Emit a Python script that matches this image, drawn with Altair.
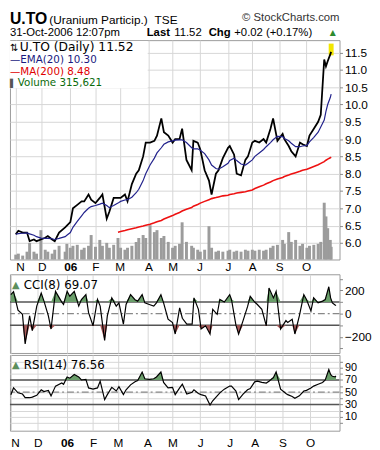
import altair as alt
import pandas as pd

# ---------------- data ----------------
dates = [
    "2005-11-01", "2005-11-04", "2005-11-09", "2005-11-14", "2005-11-17", "2005-11-22", "2005-11-25", "2005-11-30",
    "2005-12-05", "2005-12-08", "2005-12-13", "2005-12-16", "2005-12-21", "2005-12-28", "2005-12-30",
    "2006-01-03", "2006-01-06", "2006-01-11", "2006-01-16", "2006-01-19", "2006-01-24", "2006-01-27",
    "2006-02-01", "2006-02-06", "2006-02-09", "2006-02-14", "2006-02-17", "2006-02-22", "2006-02-27",
    "2006-03-02", "2006-03-07", "2006-03-10", "2006-03-15", "2006-03-20", "2006-03-23", "2006-03-28", "2006-03-31",
    "2006-04-05", "2006-04-10", "2006-04-13", "2006-04-18", "2006-04-21", "2006-04-26",
    "2006-05-01", "2006-05-04", "2006-05-09", "2006-05-12", "2006-05-17", "2006-05-23", "2006-05-25", "2006-05-30",
    "2006-06-02", "2006-06-07", "2006-06-12", "2006-06-15", "2006-06-20", "2006-06-23", "2006-06-28",
    "2006-07-04", "2006-07-06", "2006-07-11", "2006-07-14", "2006-07-19", "2006-07-24", "2006-07-27",
    "2006-08-01", "2006-08-04", "2006-08-09", "2006-08-14", "2006-08-17", "2006-08-22", "2006-08-25", "2006-08-30",
    "2006-09-05", "2006-09-07", "2006-09-12", "2006-09-15", "2006-09-20", "2006-09-25", "2006-09-28",
    "2006-10-03", "2006-10-06", "2006-10-11", "2006-10-16", "2006-10-19", "2006-10-23", "2006-10-25", "2006-10-27",
    "2006-10-30", "2006-10-31",
]
close = [
    6.25, 6.35, 6.30, 6.30, 6.05, 6.10, 6.05, 6.10,
    6.15, 6.20, 6.10, 6.05, 6.30, 6.45, 6.50,
    6.60, 7.00, 7.10, 7.20, 7.20, 7.40, 7.25,
    7.15, 7.30, 7.40, 6.70, 6.90, 7.30, 7.30,
    7.30, 7.40, 7.20, 7.70, 8.00, 8.10, 8.50, 8.90,
    8.90, 8.95, 9.10, 9.60, 9.20, 9.10,
    8.90, 9.00, 9.00, 9.30, 8.40, 8.10, 8.95, 8.90,
    8.70, 8.10, 7.80, 7.40, 8.00, 8.10, 8.45,
    8.75, 8.80, 8.55, 8.00, 7.95, 8.40, 8.50,
    8.90, 8.95, 8.90, 9.00, 8.90, 9.30, 9.60, 8.95,
    9.15, 9.00, 8.80, 8.65, 8.50, 8.90, 8.85,
    8.80, 9.10, 9.30, 9.50, 9.70, 11.30, 11.10, 11.25, 11.45, 11.52,
]
ema20 = [
    6.25, 6.27, 6.28, 6.29, 6.26, 6.22, 6.18, 6.14,
    6.13, 6.13, 6.12, 6.10, 6.13, 6.18, 6.22,
    6.30, 6.45, 6.62, 6.78, 6.88, 7.00, 7.05,
    7.08, 7.12, 7.15, 7.08, 7.02, 7.08, 7.15,
    7.20, 7.24, 7.25, 7.32, 7.45, 7.55, 7.80, 8.00,
    8.25, 8.45, 8.60, 8.75, 8.85, 8.92,
    8.95, 8.97, 8.98, 8.98, 8.90, 8.75, 8.72, 8.72,
    8.68, 8.58, 8.40, 8.25, 8.15, 8.13, 8.20,
    8.30, 8.38, 8.45, 8.38, 8.28, 8.25, 8.30,
    8.40, 8.50, 8.60, 8.70, 8.78, 8.90, 8.98, 9.08,
    9.07, 9.02, 8.95, 8.88, 8.78, 8.78, 8.80,
    8.82, 8.92, 9.05, 9.20, 9.35, 9.55, 9.80, 10.00, 10.20, 10.30,
]
ma200 = [
    None, None, None, None, None, None, None, None,
    None, None, None, None, None, None, None,
    None, None, None, None, None, None, None,
    None, None, None, None, None, None, 6.31,
    6.33, 6.36, 6.38, 6.41, 6.44, 6.46, 6.49, 6.51,
    6.54, 6.58, 6.61, 6.65, 6.69, 6.74,
    6.79, 6.83, 6.88, 6.92, 6.97, 7.02, 7.06, 7.11,
    7.15, 7.20, 7.25, 7.28, 7.31, 7.33, 7.36,
    7.38, 7.40, 7.42, 7.44, 7.46, 7.48, 7.50,
    7.53, 7.57, 7.62, 7.67, 7.71, 7.76, 7.80, 7.85,
    7.89, 7.92, 7.96, 7.99, 8.03, 8.07, 8.10,
    8.13, 8.16, 8.21, 8.26, 8.30, 8.35, 8.39, 8.42, 8.46, 8.48,
]
volume = [
    121500, 145800, 97200, 194400, 413100, 194400, 145800, 729000,
    243000, 194400, 145800, 243000, 340200, 194400, 388800,
    291600, 340200, 364500, 243000, 291600, 340200, 607500,
    315900, 486000, 340200, 413100, 291600, 364500, 534600,
    291600, 243000, 291600, 340200, 437400, 534600, 607500, 534600,
    850500, 680400, 729000, 534600, 583200, 437400,
    291600, 340200, 388800, 923400, 437400, 340200, 291600, 243000,
    194400, 243000, 826200, 291600, 194400, 218700, 194400,
    218700, 243000, 194400, 218700, 194400, 243000, 218700,
    243000, 218700, 243000, 218700, 243000, 291600, 340200, 364500,
    486000, 388800, 680400, 437400, 486000, 340200, 388800,
    291600, 340200, 364500, 388800, 437400, 1409400, 1069200, 777600, 486000, 315621,
]
cci8 = [
    164, 190, 30, -6, -261, -20, -147, 65,
    178, 110, -20, -133, 192, 100, 79,
    192, 150, 192, 65, 122, 164, 8,
    -105, 122, 65, -232, -20, 136, 65,
    93, -91, 79, 164, 120, 108, 164, 93,
    79, 65, 93, 164, 93, -48,
    -77, -176, 50, -40, -91, -91, 136, 37,
    -133, -105, -176, 37, -6, 122, 100,
    164, 122, -100, -176, -60, 60, 150,
    100, 79, 37, -105, 221, 136, 192, -133,
    -60, -77, -48, -176, -20, 164, 122,
    23, 136, 93, 108, 122, 232, 136, 93, 75, 69.07,
]
rsi14 = [
    46, 57, 49, 47, 41, 41, 42, 45,
    54, 51, 53, 44, 60, 65, 63,
    75, 73, 79, 75, 70, 71, 57,
    55, 57, 68, 38, 46, 58, 52,
    59, 46, 54, 62, 67, 69, 83, 72,
    71, 72, 75, 83, 66, 57,
    58, 46, 57, 63, 47, 50, 54, 48,
    46, 44, 29, 36, 44, 49, 55,
    60, 60, 52, 38, 47, 54, 56,
    67, 68, 66, 65, 68, 74, 83, 55,
    48, 46, 43, 40, 44, 52, 53,
    57, 60, 63, 66, 70, 87, 79, 76, 75, 76.56,
]
last_day = ["2006-10-31"]
last_range = [(11.42, 11.76)]
month_starts = [(2005, 11, 1), (2005, 12, 1), (2006, 1, 3), (2006, 2, 1), (2006, 3, 1), (2006, 4, 3),
                (2006, 5, 1), (2006, 6, 1), (2006, 7, 4), (2006, 8, 1), (2006, 9, 1), (2006, 10, 2)]
price_ticks = [6.0, 6.5, 7.0, 7.5, 8.0, 8.5, 9.0, 9.5, 10.0, 10.5, 11.0, 11.5]
cci_ticks = [-300, -200, -100, 0, 100, 200, 300]
rsi_ticks = [0, 10, 20, 30, 40, 50, 60, 70, 80, 90, 100]

df = pd.DataFrame({"date": dates, "close": close, "ema": ema20, "ma": ma200,
                   "vol": volume, "cci": cci8, "rsi": rsi14})
last_df = pd.DataFrame({"date": last_day, "lo": [r[0] for r in last_range], "hi": [r[1] for r in last_range]})
one = pd.DataFrame({"k": [0]})

W = 335
GRID = "#d6d6d6"
AXF = "Liberation Sans"
LGF = "DejaVu Sans"


def dt(y, m, d):
    return alt.DateTime(year=y, month=m, date=d, hours=0, utc=True)


x_scale = alt.Scale(domain=[dt(2005, 10, 31), dt(2006, 11, 4)])
month_vals = [dt(*m) for m in month_starts]
month_label = "utcmonth(datum.value) == 0 ? '06' : substring(utcFormat(datum.value, '%b'), 0, 1)"
bold_jan = {"condition": {"test": "utcmonth(datum.value) == 0", "value": "bold"}, "value": "normal"}
left_nov = {"condition": {"test": "utcmonth(datum.value) == 10", "value": "left"}, "value": "center"}


def x_enc(labels, pad=2):
    if labels:
        ax = alt.Axis(values=month_vals, title=None, grid=True, gridColor=GRID, ticks=False, domain=False,
                      labelExpr=month_label, labelFlush=False, labelOverlap=False, labelPadding=pad,
                      labelFont=AXF, labelFontSize=12, labelColor="black", labelFontWeight=bold_jan,
                      labelAlign=left_nov)
    else:
        ax = alt.Axis(values=month_vals, title=None, grid=True, gridColor=GRID, ticks=False,
                      domain=False, labels=False)
    return alt.X("date:T", scale=x_scale, axis=ax)


def txt(s, x, y, size=11, weight="normal", color="black", font=LGF, align="left"):
    return alt.Chart(one).mark_text(text=s, align=align, baseline="alphabetic", fontSize=size,
                                    fontWeight=weight, color=color, font=font).encode(
        x=alt.value(x), y=alt.value(y))


# ---------------- header ----------------
header = alt.layer(
    txt("U.TO", 0, 12, size=16, weight="bold", font=AXF),
    txt("(Uranium Particip.)", 40, 12, size=12, font=AXF),
    txt("TSE", 147, 12, size=12, font=AXF),
    txt("\u00a9 StockCharts.com", W, 9, size=11.5, font=AXF, color="#333333", align="right"),
    txt("31-Oct-2006 12:07pm", 0, 24, size=11.5, font=AXF),
    txt("Last", 139, 24, size=11.5, weight="bold", font=AXF),
    txt("11.52", 167, 24, size=11.5, font=AXF),
    txt("Chg", 202, 24, size=11.5, weight="bold", font=AXF),
    txt("+0.02 (+0.17%)", 228, 24, size=11.5, font=AXF),
    txt("\u25b2", 325, 23, size=8, color="#2e8b2e", font=LGF),
).properties(width=W, height=26, view=alt.ViewBackground(strokeOpacity=0))

# ---------------- price panel ----------------
p_scale = alt.Scale(domain=[5.52, 11.86], nice=False, zero=False)
p_axis = alt.Axis(orient="right", values=price_ticks, format=".1f", title=None, grid=True, gridColor=GRID,
                  tickSize=3, tickColor="#888888", domain=False, labelPadding=2,
                  labelFont=AXF, labelFontSize=12, labelColor="black")
base = alt.Chart(df)
vol = base.mark_bar(width=3, color="#9c9c9c").encode(
    x=x_enc(True), y=alt.Y("vol:Q", scale=alt.Scale(domain=[0, 5443200], nice=False), axis=None))
hilite = alt.Chart(last_df).mark_rule(color="#f2e600", strokeWidth=5).encode(
    x=x_enc(True), y=alt.Y("lo:Q", scale=p_scale, axis=None), y2="hi:Q")
price = base.mark_line(color="black", strokeWidth=1.8).encode(
    x=x_enc(True), y=alt.Y("close:Q", scale=p_scale, axis=p_axis))
ema = base.mark_line(color="#22228c", strokeWidth=1.2).encode(
    x=x_enc(True), y=alt.Y("ema:Q", scale=p_scale, axis=None))
ma = base.mark_line(color="#ee1111", strokeWidth=1.6).encode(
    x=x_enc(True), y=alt.Y("ma:Q", scale=p_scale, axis=None))
legend_box = alt.Chart(one).mark_rect(color="white").encode(
    x=alt.value(0), x2=alt.value(140), y=alt.value(1), y2=alt.value(49))
price_panel = alt.layer(
    vol, hilite, price, ema, ma, legend_box,
    txt("\u21c5", 0, 11, size=10, color="black"),
    txt("U.TO (Daily) 11.52", 10, 11, size=12.5),
    txt("\u2014EMA(20) 10.30", 0, 23, size=10.5, color="#1a1a80"),
    txt("\u2014MA(200) 8.48", 0, 35, size=10.5, color="#e00000"),
    txt("\u258c", 0, 47, size=8, color="#555555"),
    txt("Volume 315,621", 8, 47, size=10.5, color="#0b6b0b"),
).resolve_scale(y="independent").properties(width=W, height=223)

# ---------------- CCI panel ----------------
c_scale = alt.Scale(domain=[-340, 340], nice=False, zero=False)
c_axis = alt.Axis(orient="right", values=cci_ticks, title=None, grid=False, tickSize=3, tickColor="#888888",
                  domain=False, labelPadding=2, labelFont=AXF, labelFontSize=12, labelColor="black",
                  labelExpr="abs(datum.value) == 100 || abs(datum.value) == 300 ? '' : datum.label")
cb = alt.Chart(df)
cci_up = cb.transform_calculate(v="max(datum.cci, 100)").mark_area(color="#6a9e6a").encode(
    x=x_enc(False), y=alt.Y("v:Q", scale=c_scale, axis=c_axis), y2=alt.datum(100))
cci_dn = cb.transform_calculate(v="min(datum.cci, -100)").mark_area(color="#a85a5a").encode(
    x=x_enc(False), y=alt.Y("v:Q", scale=c_scale, axis=c_axis), y2=alt.datum(-100))
cci_lines = alt.Chart(pd.DataFrame({"v": [100, -100]})).mark_rule(color="#555555", strokeWidth=1.5).encode(
    y=alt.Y("v:Q", scale=c_scale, axis=c_axis))
cci_zero = alt.Chart(pd.DataFrame({"v": [0]})).mark_rule(color="#888888", strokeWidth=1.2,
                                                         strokeDash=[7, 3, 2, 3]).encode(
    y=alt.Y("v:Q", scale=c_scale, axis=c_axis))
cci_line = cb.mark_line(color="black", strokeWidth=1.2).encode(
    x=x_enc(False), y=alt.Y("cci:Q", scale=c_scale, axis=c_axis))
cci_panel = alt.layer(
    cci_lines, cci_zero, cci_up, cci_dn, cci_line,
    txt("\u25b2", 2, 14, size=10, color="#5c8f5c"),
    txt("CCI(8) 69.07", 14, 15, size=12),
).properties(width=W, height=80)

# ---------------- RSI panel ----------------
r_scale = alt.Scale(domain=[-13, 111], nice=False, zero=False)
r_axis = alt.Axis(orient="right", values=rsi_ticks, title=None, grid=True, gridColor=GRID, tickSize=3,
                  tickColor="#888888", domain=False, labelPadding=2, labelFont=AXF, labelFontSize=11,
                  labelColor="black",
                  labelExpr="datum.value % 20 == 10 ? datum.label : ''")
rb = alt.Chart(df)
rsi_up = rb.transform_calculate(v="max(datum.rsi, 70)").mark_area(color="#6a9e6a").encode(
    x=x_enc(True, 7), y=alt.Y("v:Q", scale=r_scale, axis=r_axis), y2=alt.datum(70))
rsi_dn = rb.transform_calculate(v="min(datum.rsi, 30)").mark_area(color="#a85a5a").encode(
    x=x_enc(True, 7), y=alt.Y("v:Q", scale=r_scale, axis=r_axis), y2=alt.datum(30))
rsi_lines = alt.Chart(pd.DataFrame({"v": [70, 30]})).mark_rule(color="#555555", strokeWidth=1.5).encode(
    y=alt.Y("v:Q", scale=r_scale, axis=r_axis))
rsi_mid = alt.Chart(pd.DataFrame({"v": [50]})).mark_rule(color="#888888", strokeWidth=1.2,
                                                         strokeDash=[7, 3, 2, 3]).encode(
    y=alt.Y("v:Q", scale=r_scale, axis=r_axis))
rsi_line = rb.mark_line(color="black", strokeWidth=1.2).encode(
    x=x_enc(True, 7), y=alt.Y("rsi:Q", scale=r_scale, axis=r_axis))
rsi_panel = alt.layer(
    rsi_lines, rsi_mid, rsi_up, rsi_dn, rsi_line,
    txt("\u25b2", 2, 13, size=10, color="#5c8f5c"),
    txt("RSI(14) 76.56", 14, 14, size=12),
).properties(width=W, height=77)

chart = alt.vconcat(header, price_panel, cci_panel, rsi_panel, spacing=0, padding=0).configure_view(
    stroke="#9a9a9a", strokeWidth=1
).configure_axis(labelFont=AXF)

chart.save("out.html", embed_options={"renderer": "svg", "actions": False})
